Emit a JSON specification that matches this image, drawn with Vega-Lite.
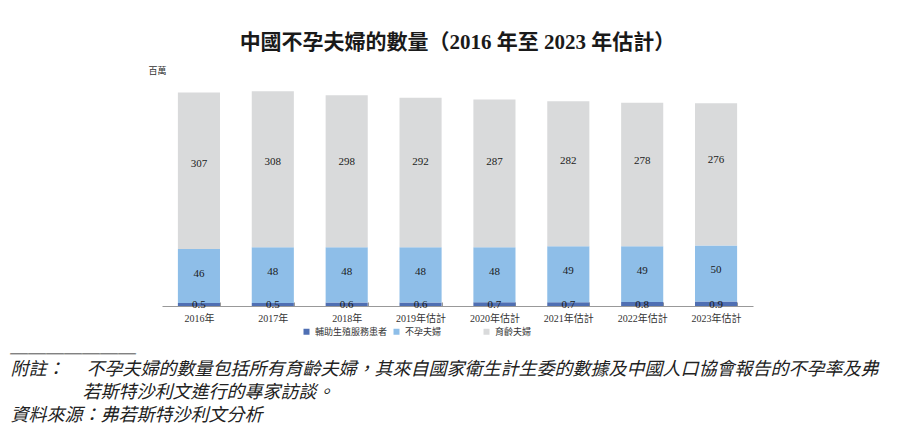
{
  "$schema": "https://vega.github.io/schema/vega-lite/v6.json",
  "width": 591,
  "height": 216,
  "autosize": {"type": "none"},
  "padding": {"left": 162, "top": 90, "right": 167, "bottom": 129},
  "background": "white",
  "title": {
    "text": "中國不孕夫婦的數量（2016 年至 2023 年估計）",
    "fontSize": 21,
    "fontWeight": "bold",
    "font": "Liberation Serif, Noto Sans CJK TC",
    "color": "#1a1a1a",
    "anchor": "middle",
    "offset": 13
  },
  "config": {"view": {"stroke": null}},
  "data": {
    "values": [
      {"year": "2016年", "series": "輔助生殖服務患者", "value": 0.5},
      {"year": "2016年", "series": "不孕夫婦", "value": 46},
      {"year": "2016年", "series": "育齡夫婦", "value": 307},
      {"year": "2017年", "series": "輔助生殖服務患者", "value": 0.5},
      {"year": "2017年", "series": "不孕夫婦", "value": 48},
      {"year": "2017年", "series": "育齡夫婦", "value": 308},
      {"year": "2018年", "series": "輔助生殖服務患者", "value": 0.6},
      {"year": "2018年", "series": "不孕夫婦", "value": 48},
      {"year": "2018年", "series": "育齡夫婦", "value": 298},
      {"year": "2019年估計", "series": "輔助生殖服務患者", "value": 0.6},
      {"year": "2019年估計", "series": "不孕夫婦", "value": 48},
      {"year": "2019年估計", "series": "育齡夫婦", "value": 292},
      {"year": "2020年估計", "series": "輔助生殖服務患者", "value": 0.7},
      {"year": "2020年估計", "series": "不孕夫婦", "value": 48},
      {"year": "2020年估計", "series": "育齡夫婦", "value": 287},
      {"year": "2021年估計", "series": "輔助生殖服務患者", "value": 0.7},
      {"year": "2021年估計", "series": "不孕夫婦", "value": 49},
      {"year": "2021年估計", "series": "育齡夫婦", "value": 282},
      {"year": "2022年估計", "series": "輔助生殖服務患者", "value": 0.8},
      {"year": "2022年估計", "series": "不孕夫婦", "value": 49},
      {"year": "2022年估計", "series": "育齡夫婦", "value": 278},
      {"year": "2023年估計", "series": "輔助生殖服務患者", "value": 0.9},
      {"year": "2023年估計", "series": "不孕夫婦", "value": 50},
      {"year": "2023年估計", "series": "育齡夫婦", "value": 276}
    ]
  },
  "transform": [
    {"stack": "value", "groupby": ["year"], "sort": [{"field": "value", "order": "ascending"}], "as": ["v0", "v1"]}
  ],
  "encoding": {
    "x": {
      "field": "year",
      "type": "ordinal",
      "sort": null,
      "scale": {"paddingInner": 0.43, "paddingOuter": 0.215},
      "axis": {
        "labelAngle": 0,
        "labelFont": "Liberation Serif, Noto Sans CJK TC",
        "labelFontSize": 10,
        "labelColor": "#333333",
        "labelPadding": 11,
        "domainColor": "#999999",
        "tickColor": "#999999",
        "tickSize": -4,
        "tickBand": "extent",
        "title": [
          "＿＿＿＿＿＿＿",
          "附註：　 不孕夫婦的數量包括所有育齡夫婦，其來自國家衛生計生委的數據及中國人口協會報告的不孕率及弗",
          "\u200b　　　　若斯特沙利文進行的專家訪談。",
          "資料來源：弗若斯特沙利文分析"
        ],
        "titleFont": "Noto Sans CJK TC",
        "titleFontSize": 18,
        "titleFontStyle": "italic",
        "titleFontWeight": "normal",
        "titleColor": "#222222",
        "titleAlign": "left",
        "titleAnchor": null,
        "titleBaseline": "alphabetic",
        "titleLineHeight": 23,
        "titleX": -152,
        "titleY": 45
      }
    }
  },
  "layer": [
    {
      "mark": {"type": "bar"},
      "encoding": {
        "y": {
          "field": "v0",
          "type": "quantitative",
          "scale": {"type": "pow", "exponent": 0.65, "domain": [0, 360], "nice": false, "zero": true},
          "axis": {
            "title": "百萬",
            "domain": false,
            "ticks": false,
            "labels": false,
            "grid": false,
            "titleAngle": 0,
            "titleAlign": "left",
            "titleBaseline": "middle",
            "titleX": -14,
            "titleY": -20,
            "titleFont": "Noto Sans CJK TC",
            "titleFontSize": 9,
            "titleFontWeight": "normal",
            "titleColor": "#333333"
          }
        },
        "y2": {"field": "v1"},
        "color": {
          "field": "series",
          "type": "nominal",
          "scale": {
            "domain": ["輔助生殖服務患者", "不孕夫婦", "育齡夫婦"],
            "range": ["#4F6FB3", "#8EBEE8", "#D9DADB"]
          },
          "legend": {
            "orient": "none",
            "legendX": 140,
            "legendY": 237,
            "direction": "horizontal",
            "columns": 3,
            "gridAlign": "all",
            "columnPadding": 4,
            "title": null,
            "padding": 0,
            "symbolType": "square",
            "symbolSize": 36,
            "symbolStrokeWidth": 0,
            "labelOffset": 4,
            "labelFont": "Noto Sans CJK TC",
            "labelFontSize": 9,
            "labelColor": "#333333"
          }
        }
      }
    },
    {
      "transform": [{"filter": "datum.series === '輔助生殖服務患者'"}],
      "mark": {"type": "text", "font": "Liberation Serif", "fontSize": 11, "color": "#1a1a1a", "baseline": "middle", "dy": -1},
      "encoding": {
        "y": {"field": "v0", "type": "quantitative", "scale": {"type": "pow", "exponent": 0.65, "domain": [0, 360], "nice": false, "zero": true}},
        "text": {"field": "value", "type": "quantitative"}
      }
    },
    {
      "transform": [{"filter": "datum.series === '不孕夫婦'"}],
      "mark": {"type": "text", "font": "Liberation Serif", "fontSize": 11, "color": "#1a1a1a", "baseline": "middle", "dy": 25},
      "encoding": {
        "y": {"field": "v1", "type": "quantitative", "scale": {"type": "pow", "exponent": 0.65, "domain": [0, 360], "nice": false, "zero": true}},
        "text": {"field": "value", "type": "quantitative"}
      }
    },
    {
      "transform": [{"filter": "datum.series === '育齡夫婦'"}],
      "mark": {"type": "text", "font": "Liberation Serif", "fontSize": 11, "color": "#1a1a1a", "baseline": "middle", "dy": -85},
      "encoding": {
        "y": {"field": "v0", "type": "quantitative", "scale": {"type": "pow", "exponent": 0.65, "domain": [0, 360], "nice": false, "zero": true}},
        "text": {"field": "value", "type": "quantitative"}
      }
    }
  ]
}
